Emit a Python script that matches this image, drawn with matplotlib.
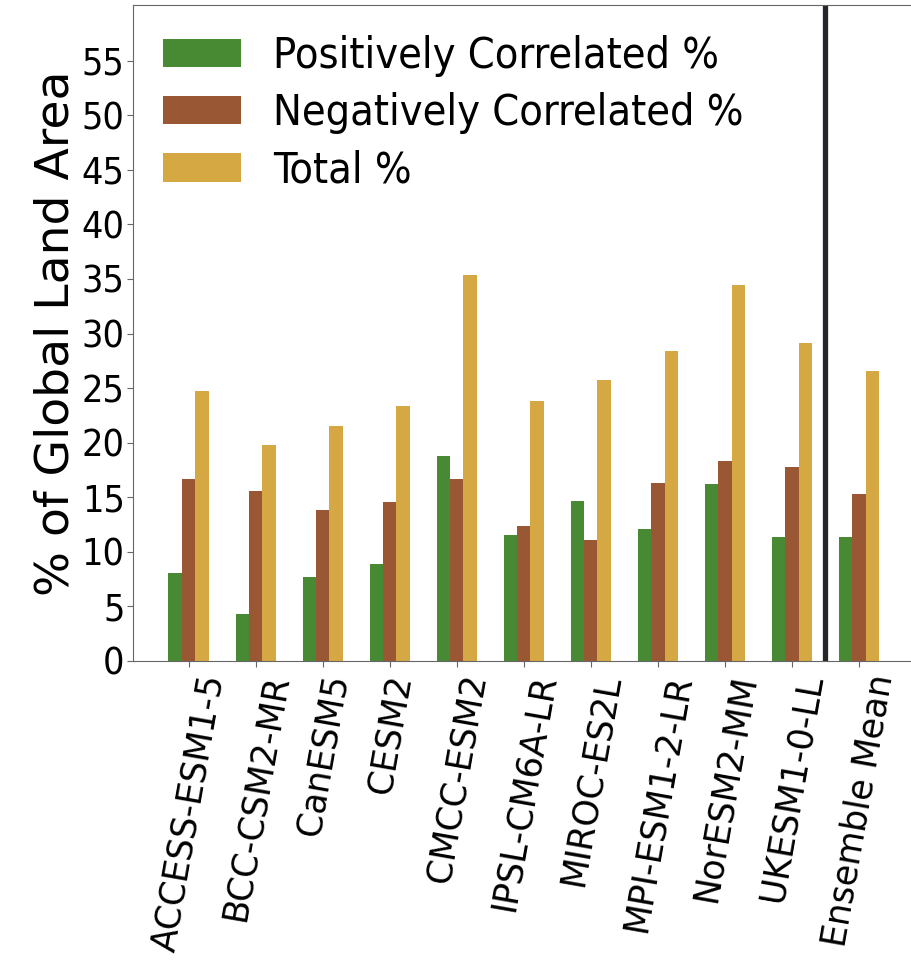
import matplotlib
matplotlib.use("Agg")
import matplotlib.pyplot as plt
import numpy as np

models = ["ACCESS-ESM1-5", "BCC-CSM2-MR", "CanESM5", "CESM2", "CMCC-ESM2",
          "IPSL-CM6A-LR", "MIROC-ES2L", "MPI-ESM1-2-LR", "NorESM2-MM",
          "UKESM1-0-LL", "Ensemble Mean"]
pos_corr = [8.1, 4.3, 7.7, 8.9, 18.8, 11.5, 14.7, 12.1, 16.2, 11.4, 11.4]
neg_corr = [16.7, 15.6, 13.8, 14.6, 16.7, 12.4, 11.1, 16.3, 18.3, 17.8, 15.3]
total = [24.7, 19.75, 21.5, 23.4, 35.4, 23.8, 25.7, 28.4, 34.4, 29.1, 26.6]

fig = plt.figure(figsize=(9.12, 9.6), dpi=100)
ax = fig.add_axes([0.1458, 0.3115, 0.857, 0.6833])

x = np.arange(len(models))
w = 0.2
ax.bar(x - w, pos_corr, w, color="#488a33", label="Positively Correlated %")
ax.bar(x, neg_corr, w, color="#9a5734", label="Negatively Correlated %")
ax.bar(x + w, total, w, color="#d5a843", label="Total %")

# separate the individual models from the ensemble mean
ax.axvline(9.5, ymin=0, ymax=0.995, color="#24262b", lw=3.8)

ax.set_ylim(0, 60.1)
ax.set_yticks(np.arange(0, 60, 5))
ax.set_yticklabels([str(v) for v in range(0, 60, 5)],
                   fontsize=27, fontstretch="condensed")
ax.set_xticks(x)
ax.set_xticklabels(models, rotation=80, fontsize=25)
ax.tick_params(axis="y", pad=2)
ax.tick_params(color="#666666", length=4)
for s in ax.spines.values():
    s.set_color("#666666")
ax.set_ylabel("% of Global Land Area", fontsize=34, labelpad=2)

ax.legend(loc="upper left", frameon=False,
          prop={"size": 31, "stretch": "condensed"},
          handlelength=1.8, handleheight=0.65, labelspacing=0.35,
          handletextpad=0.75, borderaxespad=0.3)

plt.savefig("out.png", dpi=100)
